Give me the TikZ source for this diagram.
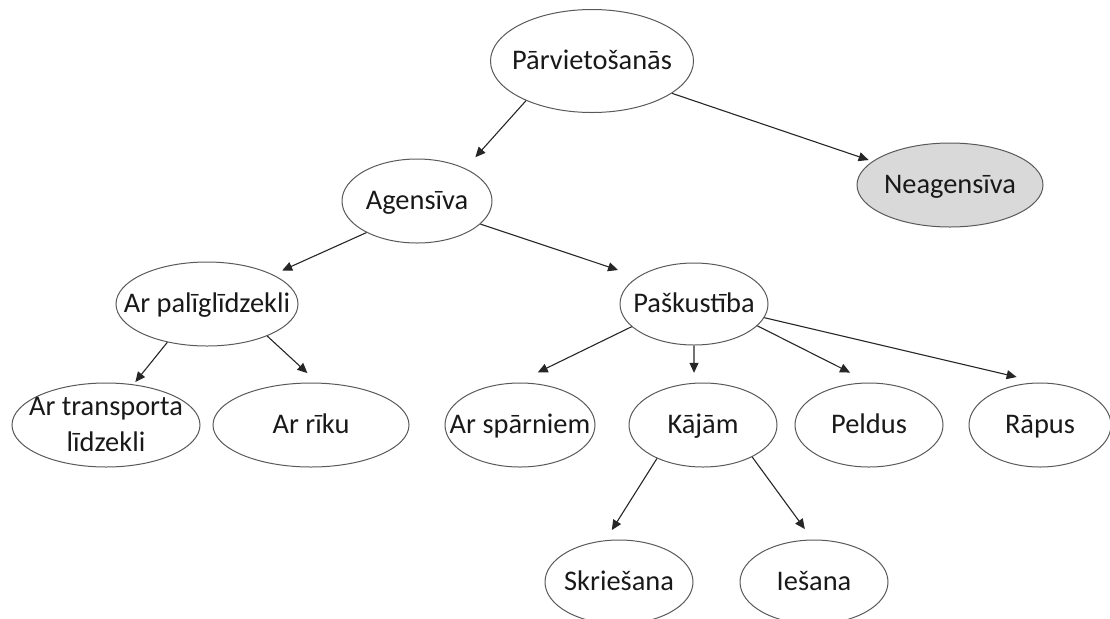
\documentclass[tikz,border=0pt]{standalone}
\usepackage{fontspec}
\setmainfont{Carlito}
\usetikzlibrary{shapes.geometric,arrows.meta}
\newcommand{\fitin}[1]{\makebox[0pt]{#1}}
\begin{document}
\begin{tikzpicture}[x=0.5pt,y=-0.5pt]
        % Define styles
        \tikzset{
            concept/.style={ellipse, draw=black!65, line width=0.5pt, inner sep=0pt, text height=11pt, text depth=3pt, text=black!90, font=\fontsize{14.2}{18}\selectfont},
            passive/.style={concept, fill=black!15},
            link/.style={-{Triangle[length=5pt,width=4.5pt]}, line width=0.55pt, black!85}
        }
        \useasboundingbox (0,0) rectangle (1110,618);
        % Top level
        \node[concept, minimum width=101.5pt, minimum height=51.5pt] (parv) at (592,61) {\fitin{Pārvietošanās}};
        \node[passive, minimum width=93pt, minimum height=42pt] (neag) at (950,185) {\fitin{Neagensīva}};
        \node[concept, minimum width=75pt, minimum height=42pt] (agens) at (417,201) {\fitin{Agensīva}};
        % Second level
        \node[concept, minimum width=91pt, minimum height=42pt] (palig) at (207,304) {\fitin{Ar palīglīdzekli}};
        \node[concept, minimum width=74pt, minimum height=41pt] (pask) at (694,304) {\fitin{Paškustība}};
        % Third level
        \node[concept, minimum width=94pt, minimum height=42pt] (transp) at (106,425) {\fitin{\begin{tabular}{@{}c@{}}Ar transporta\\ līdzekli\end{tabular}}};
        \node[concept, minimum width=98pt, minimum height=42pt] (riku) at (311,425) {\fitin{Ar rīku}};
        \node[concept, minimum width=75pt, minimum height=42pt] (sparn) at (520,425) {\fitin{Ar spārniem}};
        \node[concept, minimum width=74pt, minimum height=42pt] (kajam) at (703,425) {\fitin{Kājām}};
        \node[concept, minimum width=74pt, minimum height=42pt] (peld) at (869,425) {\fitin{Peldus}};
        \node[concept, minimum width=71pt, minimum height=42pt] (rapus) at (1040,425) {\fitin{Rāpus}};
        % Bottom level
        \node[concept, minimum width=74pt, minimum height=42pt] (skrie) at (619,582) {\fitin{Skriešana}};
        \node[concept, minimum width=74pt, minimum height=42pt] (iesana) at (814,582) {\fitin{Iešana}};
        % Arrows between levels
        \draw[link, shorten >=7.5pt] (parv.211) -- (agens.34);
        \draw[link, shorten >=2pt] (parv.338) -- (neag.163);
        \draw[link, shorten >=5pt] (agens.212) -- (palig.24);
        \draw[link, shorten >=10.5pt] (agens.340) -- (pask.154);
        \draw[link, shorten >=1.5pt] (palig.224) -- (transp.56);
        \draw[link, shorten >=7pt] (palig.332) -- (riku.81);
        \draw[link, shorten >=11.5pt] (pask.200) -- (sparn.94);
        \draw[link, shorten >=5pt] (pask.270) -- (kajam.102);
        \draw[link, shorten >=11pt] (pask.341) -- (peld.89);
        \draw[link, shorten >=12pt] (pask.349) -- (rapus.north);
        \draw[link, shorten >=6pt] (kajam.216) -- (skrie.108);
        \draw[link, shorten >=6.5pt] (kajam.327) -- (iesana.92);
\end{tikzpicture}
\end{document}
